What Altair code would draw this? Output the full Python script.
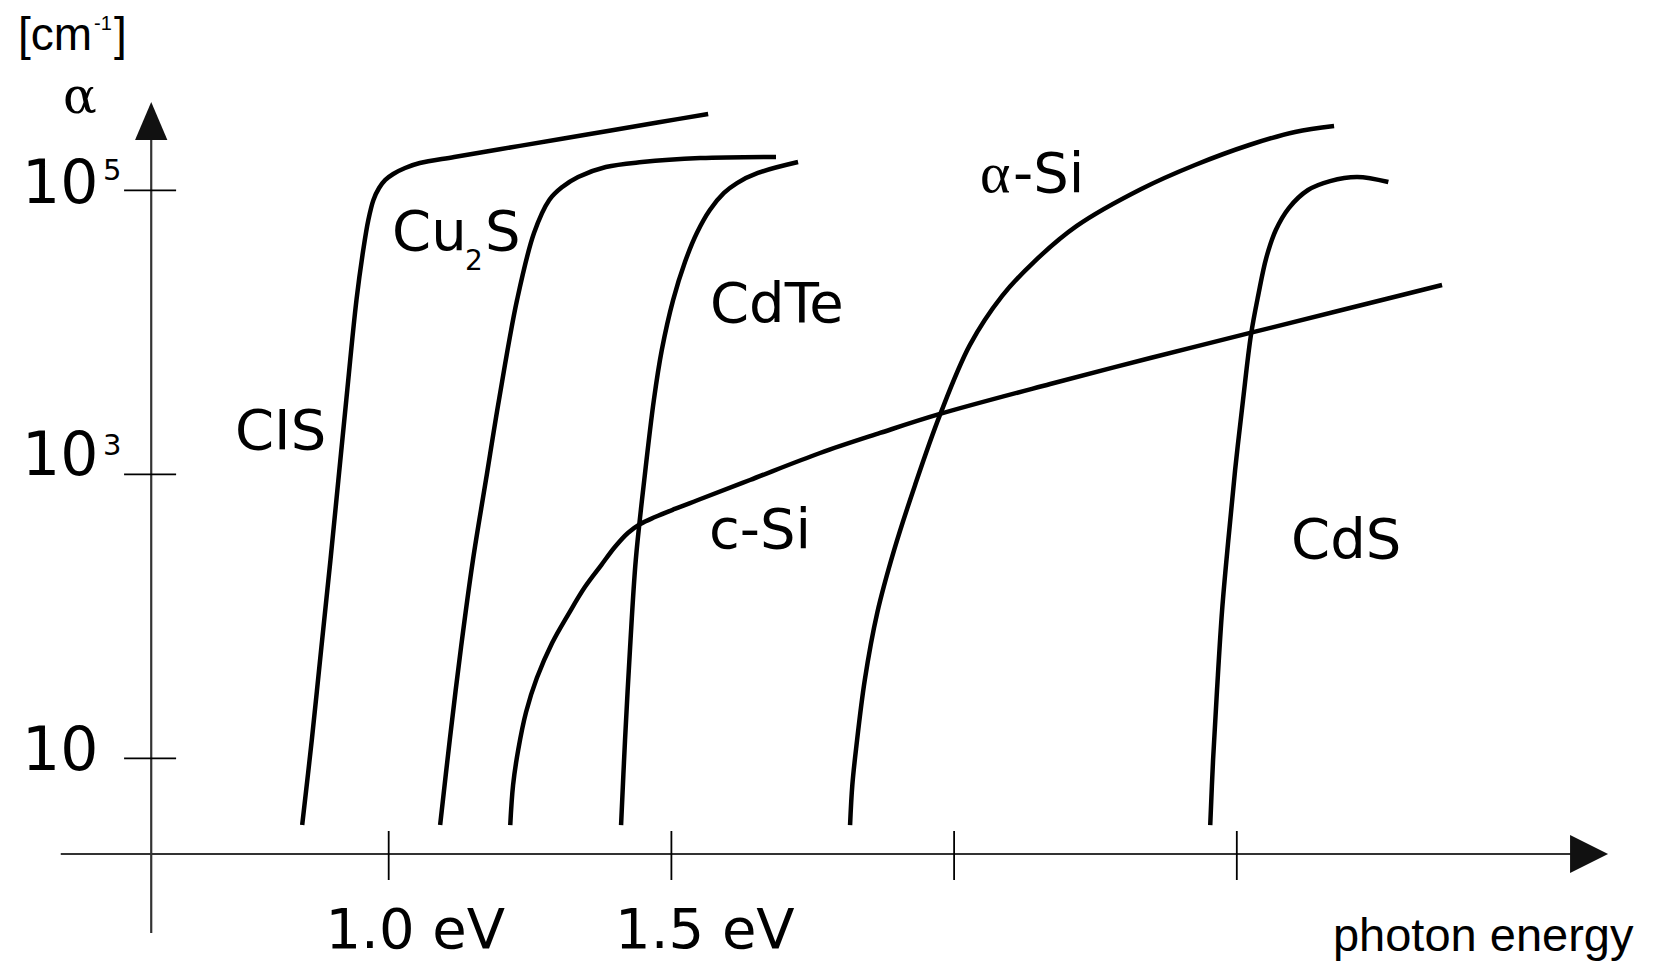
import altair as alt
import pandas as pd

# ---- data: photon energy (eV) and log10 of absorption coefficient alpha (cm^-1)
cis_ev = [0.847, 0.864, 0.881, 0.897, 0.911, 0.925, 0.943, 0.955, 0.964, 0.973, 0.983, 0.994, 1.008, 1.029, 1.055, 1.116, 1.232, 1.356, 1.478, 1.565]
cis_loga = [0.530, 1.129, 1.784, 2.396, 2.960, 3.523, 4.227, 4.580, 4.791, 4.932, 5.016, 5.073, 5.115, 5.157, 5.192, 5.235, 5.313, 5.396, 5.479, 5.537]

cu2s_ev = [1.091, 1.108, 1.128, 1.149, 1.172, 1.195, 1.227, 1.257, 1.284, 1.307, 1.335, 1.384, 1.448, 1.551, 1.685]
cu2s_loga = [0.530, 1.129, 1.784, 2.396, 2.960, 3.523, 4.227, 4.699, 4.932, 5.023, 5.094, 5.164, 5.199, 5.227, 5.235]

cdte_ev = [1.411, 1.418, 1.427, 1.437, 1.452, 1.469, 1.483, 1.503, 1.524, 1.545, 1.568, 1.593, 1.616, 1.653, 1.724]
cdte_loga = [0.530, 1.129, 1.784, 2.396, 2.960, 3.523, 3.875, 4.227, 4.495, 4.699, 4.861, 4.981, 5.051, 5.122, 5.199]

csi_ev = [1.215, 1.220, 1.229, 1.243, 1.262, 1.289, 1.319, 1.347, 1.376, 1.400, 1.423, 1.445, 1.471, 1.506, 1.547, 1.639, 1.763, 1.869, 1.975, 2.170, 2.347, 2.527, 2.700, 2.863]
csi_loga = [0.530, 0.812, 1.058, 1.326, 1.565, 1.812, 2.023, 2.206, 2.361, 2.488, 2.587, 2.650, 2.699, 2.756, 2.819, 2.960, 3.150, 3.291, 3.425, 3.636, 3.819, 3.999, 4.171, 4.333]

asi_ev = [1.816, 1.820, 1.827, 1.842, 1.864, 1.894, 1.931, 1.975, 2.028, 2.085, 2.141, 2.217, 2.331, 2.426, 2.522, 2.603, 2.672]
asi_loga = [0.530, 0.812, 1.080, 1.551, 2.023, 2.467, 2.925, 3.418, 3.911, 4.256, 4.495, 4.749, 5.009, 5.178, 5.319, 5.411, 5.453]

cds_ev = [2.453, 2.458, 2.465, 2.474, 2.485, 2.497, 2.511, 2.525, 2.538, 2.552, 2.569, 2.592, 2.626, 2.665, 2.713, 2.768]
cds_loga = [0.530, 0.988, 1.481, 2.044, 2.537, 3.030, 3.523, 3.981, 4.263, 4.523, 4.720, 4.875, 5.002, 5.065, 5.094, 5.058]

# axis extents and ticks (data units)
x_domain = [0.3267, 3.2290]
y_domain = [-0.4275, 6.2838]
x_axis_span = [0.420, 3.098]
x_axis_level = 0.326
y_axis_pos = 0.580
y_axis_span = [-0.230, 5.354]
x_ticks = [1.0, 1.5, 2.0, 2.5]
x_tick_span = [0.143, 0.488]
y_ticks = [1, 3, 5]
y_tick_span = [0.532, 0.624]
x_arrow = [3.123, 0.326]
y_arrow = [0.580, 5.488]

# text annotations: DejaVu Sans (large and small)
sans_text = ["CIS", "Cu", "S", "CdTe", "c-Si", "CdS", "-Si", "10", "10", "10", "1.0 eV", "1.5 eV", "2", "5", "3"]
sans_x = [0.7282, 1.0059, 1.1703, 1.5683, 1.5665, 2.5959, 2.1042, 0.3515, 0.3515, 0.3515, 0.8882, 1.4003, 1.1350, 0.4947, 0.4947]
sans_y = [3.1782, 4.5796, 4.5796, 4.0725, 2.4810, 2.4106, 4.9880, 4.9106, 2.9951, 0.9176, -0.3359, -0.3359, 4.4387, 5.0725, 3.1359]
sans_size = [56, 56, 56, 56, 56, 56, 56, 60, 60, 60, 56, 56, 28, 29, 29]

# Liberation Sans annotations (unit and axis title)
arial_text = ["[cm", "-1", "]", "photon energy"]
arial_x = [0.3444, 0.4788, 0.5142, 2.6700]
arial_y = [5.9880, 6.1290, 5.9880, -0.3570]
arial_size = [46, 20, 46, 47]

# serif alpha symbols
serif_text = ["α", "α"]
serif_x = [0.4240, 2.0459]
serif_y = [5.5444, 4.9880]
serif_size = [50, 58]
serif_font = ["DejaVu Serif", "Liberation Serif"]

# ---- build tables
series = {
    "CIS": (cis_ev, cis_loga),
    "Cu2S": (cu2s_ev, cu2s_loga),
    "CdTe": (cdte_ev, cdte_loga),
    "c-Si": (csi_ev, csi_loga),
    "a-Si": (asi_ev, asi_loga),
    "CdS": (cds_ev, cds_loga),
}
rows = []
for name, (xs_, ys_) in series.items():
    for i, (xv, yv) in enumerate(zip(xs_, ys_)):
        rows.append({"material": name, "x": xv, "y": yv, "order": i})
curves = pd.DataFrame(rows)

xs = alt.Scale(domain=x_domain, nice=False, zero=False)
ys = alt.Scale(domain=y_domain, nice=False, zero=False)


def X(f="x"):
    return alt.X(f"{f}:Q", scale=xs, axis=None)


def Y(f="y"):
    return alt.Y(f"{f}:Q", scale=ys, axis=None)


line_layer = alt.Chart(curves).mark_line(
    color="black", strokeWidth=4.5, interpolate="catmull-rom", strokeCap="butt"
).encode(x=X(), y=Y(), detail="material:N", order="order:Q")

haxis = alt.Chart(pd.DataFrame({"x": [x_axis_span[0]], "x2": [x_axis_span[1]], "y": [x_axis_level]})).mark_rule(
    color="#333333", strokeWidth=2.2
).encode(x=X(), x2="x2:Q", y=Y())

vaxis = alt.Chart(pd.DataFrame({"x": [y_axis_pos], "y": [y_axis_span[0]], "y2": [y_axis_span[1]]})).mark_rule(
    color="#333333", strokeWidth=2.2
).encode(x=X(), y=Y(), y2="y2:Q")

xt = alt.Chart(pd.DataFrame({"x": x_ticks, "y": [x_tick_span[0]] * len(x_ticks), "y2": [x_tick_span[1]] * len(x_ticks)})).mark_rule(
    color="black", strokeWidth=1.8
).encode(x=X(), y=Y(), y2="y2:Q")

yt = alt.Chart(pd.DataFrame({"y": y_ticks, "x": [y_tick_span[0]] * len(y_ticks), "x2": [y_tick_span[1]] * len(y_ticks)})).mark_rule(
    color="black", strokeWidth=1.8
).encode(x=X(), x2="x2:Q", y=Y())

xarrow = alt.Chart(pd.DataFrame({"x": [x_arrow[0]], "y": [x_arrow[1]]})).mark_point(
    shape="M1,0L-1,-1L-1,1Z", size=1444, filled=True, color="#111111", opacity=1
).encode(x=X(), y=Y())

yarrow = alt.Chart(pd.DataFrame({"x": [y_arrow[0]], "y": [y_arrow[1]]})).mark_point(
    shape="M0,-1L0.85,1L-0.85,1Z", size=1444, filled=True, color="#111111", opacity=1
).encode(x=X(), y=Y())


def text_layer(texts, xv, yv, sizes, font):
    df = pd.DataFrame({"t": texts, "x": xv, "y": yv, "s": sizes})
    return alt.Chart(df).mark_text(
        align="left", baseline="alphabetic", font=font, color="black"
    ).encode(x=X(), y=Y(), text="t:N", size=alt.Size("s:Q", scale=None, legend=None))


sans = text_layer(sans_text, sans_x, sans_y, sans_size, "DejaVu Sans")
arial = text_layer(arial_text, arial_x, arial_y, arial_size, "Liberation Sans")
serif_layers = [
    text_layer([t], [xv], [yv], [s], f)
    for t, xv, yv, s, f in zip(serif_text, serif_x, serif_y, serif_size, serif_font)
]

chart = alt.layer(
    haxis, vaxis, xt, yt, xarrow, yarrow, line_layer, sans, arial, *serif_layers
).properties(
    width=1641, height=953, autosize=alt.AutoSizeParams(type="none"), padding=0, background="white"
).configure_view(strokeWidth=0)

chart.save("out.html", embed_options={"renderer": "svg", "actions": False})
